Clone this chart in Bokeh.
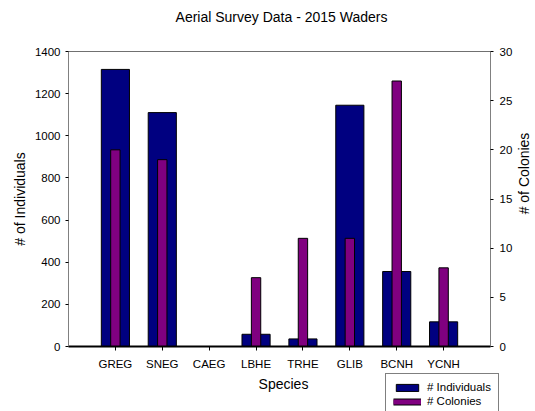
import math
from bokeh.plotting import figure
from bokeh.models import (Range1d, LinearAxis, FactorRange, Legend, LegendItem,
                          FixedTicker, Label)
from bokeh.layouts import column, row
from bokeh.embed import file_html
from bokeh.resources import INLINE

# ---- data ----
species = ["GREG", "SNEG", "CAEG", "LBHE", "TRHE", "GLIB", "BCNH", "YCNH"]
individuals = [1315, 1110, 0, 58, 36, 1145, 356, 117]
colonies = [20, 19, 0, 7, 11, 11, 27, 8]
left_ticks = [0, 200, 400, 600, 800, 1000, 1200, 1400]
right_ticks = [0, 5, 10, 15, 20, 25, 30]
title_text = "Aerial Survey Data - 2015 Waders"
series_names = ["# Individuals", "# Colonies"]

FONT = "Liberation Sans"
NAVY = "#000080"
PURPLE = "#800080"

TOTAL_W, TOTAL_H = 535, 411
TOP_H = 30
BOT_H = 39
MAIN_W = 515
MAIN_H = TOTAL_H - TOP_H - BOT_H
SIDE_W = TOTAL_W - MAIN_W

# frame edges in page pixels
F_LEFT, F_RIGHT, F_TOP, F_BOTTOM = 68, 493, 51, 347


def strip(w, h):
    f = figure(width=w, height=h, x_range=Range1d(0, 1), y_range=Range1d(0, 1),
               output_backend="svg", toolbar_location=None,
               x_axis_location=None, y_axis_location=None,
               min_border=0, min_border_left=0, min_border_right=0,
               min_border_top=0, min_border_bottom=0)
    f.grid.visible = False
    f.outline_line_color = None
    f.background_fill_color = "white"
    f.border_fill_color = "white"
    return f


def style_axis(ax, standoff, tick_out):
    ax.major_label_text_font = FONT
    ax.major_label_text_font_size = "11.5px"
    ax.major_label_text_color = "black"
    ax.major_label_standoff = standoff
    ax.major_tick_out = tick_out
    ax.major_tick_in = 0
    ax.minor_tick_out = 0
    ax.minor_tick_in = 0
    ax.major_tick_line_color = "black"
    ax.axis_label_text_font = FONT
    ax.axis_label_text_font_size = "14px"
    ax.axis_label_text_font_style = "normal"
    ax.axis_label_text_color = "black"


# ---------------- top strip: chart title ----------------
pt = strip(TOTAL_W, TOP_H)
pt.add_layout(Label(x=281, y=TOP_H - 16, x_units="screen", y_units="screen",
                    text=title_text, text_align="center", text_baseline="middle",
                    text_font=FONT, text_font_size="14px", text_color="black"))

# ---------------- main chart ----------------
p = figure(width=MAIN_W, height=MAIN_H,
           x_range=FactorRange(factors=species, range_padding=0.5,
                               range_padding_units="absolute"),
           y_range=Range1d(0, 1400),
           output_backend="svg", toolbar_location=None,
           min_border_left=F_LEFT, min_border_right=MAIN_W - F_RIGHT,
           min_border_top=F_TOP - TOP_H,
           min_border_bottom=(TOP_H + MAIN_H) - F_BOTTOM)
p.extra_y_ranges = {"col": Range1d(0, 30)}

p.xgrid.visible = False
p.ygrid.visible = False
p.outline_line_color = "#707070"
p.outline_line_width = 1
p.background_fill_color = "white"
p.border_fill_color = "white"

r1 = p.vbar(x=species, top=individuals, width=0.6,
            fill_color=NAVY, line_color="black", line_width=1)
r2 = p.vbar(x=species, top=colonies, width=0.2, y_range_name="col",
            fill_color=PURPLE, line_color="black", line_width=1)

# left axis
ya = p.yaxis[0]
ya.ticker = FixedTicker(ticks=left_ticks)
style_axis(ya, 5, 3)
ya.axis_label = "# of Individuals"
ya.axis_label_standoff = 4
ya.axis_line_color = "#808080"

# bottom axis
xa = p.xaxis[0]
style_axis(xa, 7, 4)
xa.axis_line_color = "black"
xa.axis_line_width = 2

# right axis
ra = LinearAxis(y_range_name="col", ticker=FixedTicker(ticks=right_ticks))
style_axis(ra, 6, 3)
ra.axis_line_color = "#808080"
p.add_layout(ra, "right")

# ---------------- right strip: right axis title ----------------
pr = strip(SIDE_W, MAIN_H)
pr.add_layout(Label(x=8, y=MAIN_H - (199 - TOP_H), x_units="screen", y_units="screen",
                    text="# of Colonies", angle=math.pi / 2,
                    text_align="center", text_baseline="middle",
                    text_font=FONT, text_font_size="14px", text_color="black"))

# ---------------- bottom strip: x title + legend ----------------
pb = strip(TOTAL_W, BOT_H)
pb.add_layout(Label(x=283, y=BOT_H - (383 - (TOP_H + MAIN_H)), x_units="screen",
                    y_units="screen", text="Species",
                    text_align="center", text_baseline="middle",
                    text_font=FONT, text_font_size="14px", text_color="black"))

# legend swatch renderers (placed outside the strip's visible range)
d1 = pb.vbar(x=[5], top=[5], bottom=[4], width=0.5,
             fill_color=NAVY, line_color="black", line_width=1)
d2a = pb.line(x=[5, 6], y=[5, 5], line_color="black", line_width=7)
d2b = pb.line(x=[5, 6], y=[5, 5], line_color=PURPLE, line_width=5)

legend = Legend(items=[LegendItem(label=series_names[0], renderers=[d1]),
                       LegendItem(label=series_names[1], renderers=[d2a, d2b])],
                location=(385, -4),
                padding=7, spacing=2, margin=0,
                glyph_width=28, glyph_height=9, label_height=9,
                label_standoff=6,
                label_text_font=FONT, label_text_font_size="11.5px",
                label_text_color="black",
                border_line_color="black", border_line_width=1,
                background_fill_color="white", background_fill_alpha=1)
pb.add_layout(legend)

layout = column(pt, row(p, pr), pb)
open("out.html", "w").write(file_html(layout, INLINE))
